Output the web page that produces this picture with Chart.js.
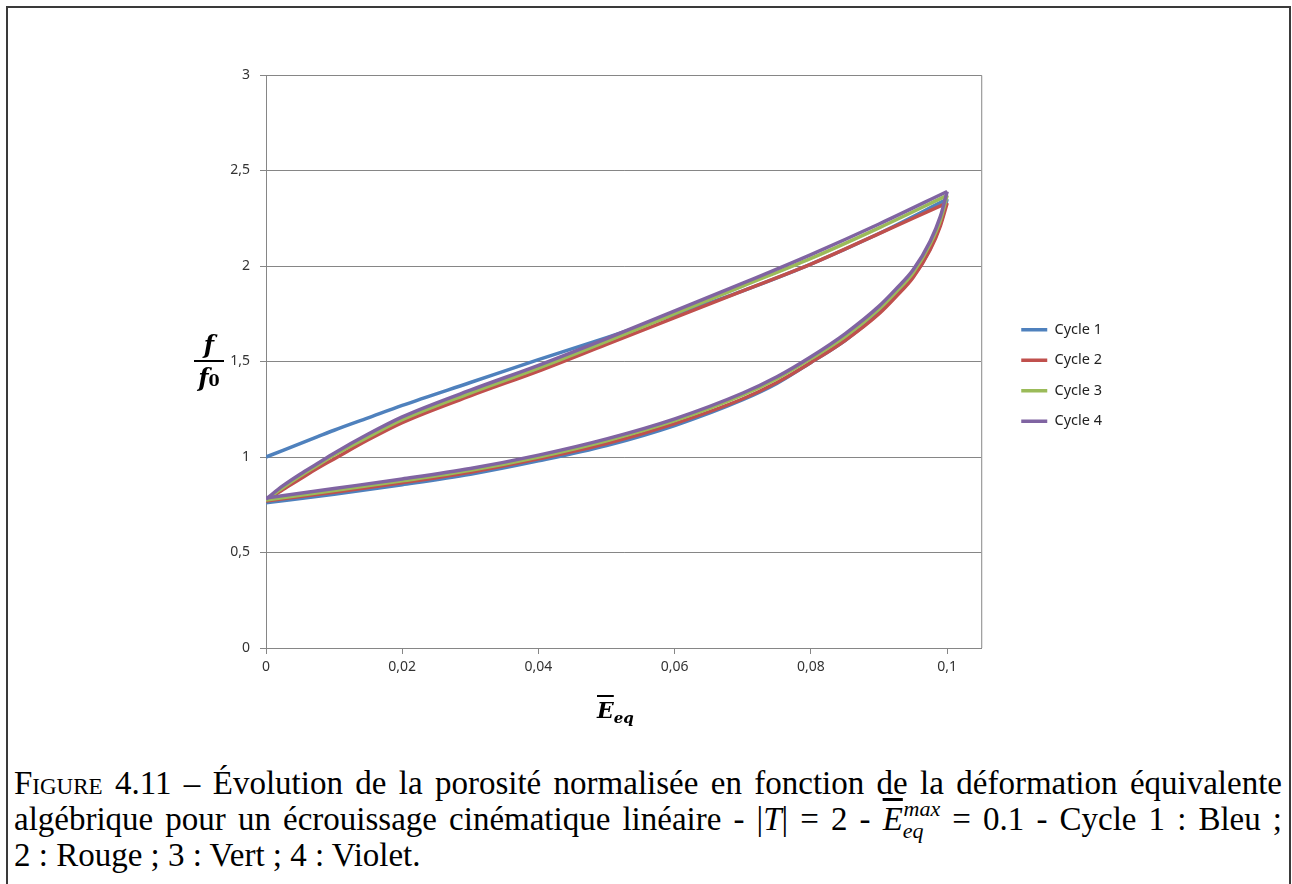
<!DOCTYPE html>
<html lang="fr">
<head>
<meta charset="UTF-8">
<title>Porosité normalisée</title>
<script src="https://cdn.jsdelivr.net/npm/chart.js"></script>
<style>
  body { margin: 0; background: #fff; }
  #page { position: relative; width: 1292px; height: 884px; overflow: hidden; }
  #cadre { position: absolute; left: 6px; top: 6px; width: 1285px; height: 900px;
           border: 2px solid #3a3a3a; border-bottom: none; box-sizing: border-box; }
  #zone { position: absolute; left: 0; top: 0; width: 1292px; height: 750px; }
  .titre { position: absolute; font-family: "DejaVu Serif", serif; font-weight: bold; font-style: italic; color: #000; }
  #ty { left: 194px; top: 331px; width: 30px; text-align: center; font-size: 24px; line-height: 27px; }
  #ty .barre { border-top: 2px solid #000; margin: 2px 0; }
  #tx { left: 597px; top: 697px; font-size: 22px; }
  #tx .e { text-decoration: overline; }
  #tx sub { font-size: 15px; vertical-align: -5px; }
  #legende { position: absolute; left: 14px; top: 765px; width: 1268px;
             font-family: "Liberation Serif", serif; font-size: 33px; line-height: 36px; color: #000; }
  #legende div { height: 36px; }
  #legende .j { text-align: justify; text-align-last: justify; white-space: nowrap; }
  #legende .ind { font-style: italic; font-size: 22px; line-height: 0; position: relative; }
  .sc { font-variant: small-caps; }
  .m { font-style: italic; }
</style>
</head>
<body>
<div id="page">
  <div id="cadre"></div>
  <div id="zone"><canvas id="graphique" width="1292" height="750"></canvas></div>
  <div class="titre" id="ty"><div>f</div><div class="barre"></div><div>f<span style="font-size:16px;font-style:normal">0</span></div></div>
  <div class="titre" id="tx"><span class="e">E</span><sub>eq</sub></div>
  <div id="legende">
    <div class="j"><span class="sc">Figure</span> 4.11 – Évolution de la porosité normalisée en fonction de la déformation équivalente</div>
    <div class="j">algébrique pour un écrouissage cinématique linéaire - |<span class="m">T</span>| = 2 - <span class="m" style="text-decoration:overline">E</span><span class="ind" style="top:8px">eq</span><span class="ind" style="top:-14px;margin-left:-20px">max</span> = 0.1 - Cycle 1 : Bleu ;</div>
    <div>2 : Rouge ; 3 : Vert ; 4 : Violet.</div>
  </div>
</div>

<script>
  // abscisses communes : charge (0 -> 0,1) puis décharge (0,1 -> 0)
  const xCharge = [0, 0.0025, 0.005, 0.0075, 0.01, 0.015, 0.02, 0.03, 0.04, 0.05, 0.06, 0.07, 0.08, 0.09, 0.1];
  const xDecharge = [0.1, 0.099, 0.0975, 0.095, 0.0925, 0.09, 0.085, 0.08, 0.075, 0.07, 0.06, 0.05, 0.04, 0.03, 0.02, 0.01, 0];

  // f / f0
  const cycle1Charge = [1.0, 1.035, 1.07, 1.105, 1.14, 1.205, 1.27, 1.39, 1.51, 1.625, 1.745, 1.87, 2.01, 2.17, 2.35];
  const cycle2Charge = [0.77, 0.83, 0.885, 0.94, 0.99, 1.09, 1.18, 1.32, 1.45, 1.59, 1.73, 1.87, 2.01, 2.17, 2.33];
  const cycle3Charge = [0.775, 0.84, 0.9, 0.955, 1.01, 1.105, 1.195, 1.335, 1.465, 1.605, 1.75, 1.895, 2.04, 2.2, 2.37];
  const cycle4Charge = [0.78, 0.85, 0.91, 0.965, 1.02, 1.12, 1.21, 1.35, 1.48, 1.62, 1.765, 1.91, 2.06, 2.22, 2.39];

  const cycle1Decharge = [2.35, 2.22, 2.09, 1.945, 1.845, 1.755, 1.61, 1.495, 1.385, 1.3, 1.165, 1.06, 0.98, 0.91, 0.855, 0.805, 0.76];
  const cycle2Decharge = [2.33, 2.21, 2.085, 1.94, 1.84, 1.75, 1.61, 1.495, 1.39, 1.305, 1.175, 1.07, 0.99, 0.92, 0.865, 0.815, 0.77];
  const cycle3Decharge = [2.37, 2.24, 2.115, 1.965, 1.865, 1.775, 1.63, 1.515, 1.41, 1.325, 1.19, 1.085, 1.0, 0.93, 0.875, 0.825, 0.775];
  const cycle4Decharge = [2.39, 2.26, 2.13, 1.98, 1.88, 1.79, 1.645, 1.525, 1.42, 1.335, 1.2, 1.095, 1.01, 0.94, 0.885, 0.835, 0.785];

  const nomsCycles = ['Cycle 1', 'Cycle 2', 'Cycle 3', 'Cycle 4'];
  const couleurs = ['#4f81bd', '#c0504d', '#9bbb59', '#8064a2'];
  const charges = [cycle1Charge, cycle2Charge, cycle3Charge, cycle4Charge];
  const decharges = [cycle1Decharge, cycle2Decharge, cycle3Decharge, cycle4Decharge];

  const ticksY = [0, 0.5, 1, 1.5, 2, 2.5, 3];
  const ticksX = [0, 0.02, 0.04, 0.06, 0.08, 0.1];

  function points(xs, ys) {
    return xs.map(function (x, i) { return { x: x, y: ys[i] }; });
  }

  let datasets = [];
  nomsCycles.forEach(function (nom, i) {
    let base = {
      borderColor: couleurs[i],
      backgroundColor: couleurs[i],
      borderWidth: 3.5,
      pointRadius: 0,
      showLine: true,
      fill: false,
      cubicInterpolationMode: 'monotone',
      order: 4 - i
    };
    datasets.push(Object.assign({ label: nom, data: points(xCharge, charges[i]) }, base));
    datasets.push(Object.assign({ label: '', data: points(xDecharge, decharges[i]) }, base));
  });

  const virgule = function (v) { return String(v).replace('.', ','); };

  // bordure haute et droite de la zone de tracé
  const cadreTrace = {
    id: 'cadreTrace',
    afterDraw: function (chart) {
      const a = chart.chartArea, c = chart.ctx;
      c.save();
      c.lineWidth = 1;
      c.strokeStyle = '#868686';
      c.beginPath();
      c.moveTo(a.left, a.top + 0.5);
      c.lineTo(a.right + 0.5, a.top + 0.5);
      c.lineTo(a.right + 0.5, a.bottom);
      c.stroke();
      c.restore();
    }
  };

  // décale la légende un peu vers la droite et vers le haut
  const decaleLegende = {
    id: 'decaleLegende',
    afterLayout: function (chart) {
      const l = chart.legend;
      l.left += 24; l.right += 24;
      l.top -= 6; l.bottom -= 6;
    }
  };

  Chart.defaults.font.family = '"Noto Sans", sans-serif';
  Chart.defaults.color = '#333';

  new Chart(document.getElementById('graphique'), {
    type: 'scatter',
    data: { datasets: datasets },
    plugins: [cadreTrace, decaleLegende],
    options: {
      responsive: false,
      animation: false,
      devicePixelRatio: 1,
      layout: { padding: { left: 200, top: 75, right: 204, bottom: 62 } },
      plugins: {
        tooltip: { enabled: false },
        legend: {
          position: 'right',
          labels: {
            usePointStyle: true,
            pointStyle: 'line',
            pointStyleWidth: 26,
            boxHeight: 14,
            padding: 16,
            font: { size: 14.5 },
            color: '#222',
            filter: function (item) { return item.text !== ''; },
            sort: function (a, b) { return a.datasetIndex - b.datasetIndex; }
          }
        }
      },
      scales: {
        x: {
          type: 'linear',
          min: 0,
          max: 0.105,
          afterBuildTicks: function (s) { s.ticks = ticksX.map(function (v) { return { value: v }; }); },
          afterFit: function (s) { s.height = 40; },
          grid: { drawOnChartArea: false, drawTicks: true, tickLength: 6, color: '#868686' },
          border: { color: '#868686' },
          ticks: { callback: virgule, font: { size: 14 }, padding: 5, maxRotation: 0 }
        },
        y: {
          min: 0,
          max: 3,
          afterBuildTicks: function (s) { s.ticks = ticksY.map(function (v) { return { value: v }; }); },
          afterFit: function (s) { s.width = 66; },
          grid: { color: '#868686', tickLength: 6 },
          border: { color: '#868686' },
          ticks: { callback: virgule, font: { size: 14 }, padding: 10 }
        }
      }
    }
  });
</script>
</body>
</html>
